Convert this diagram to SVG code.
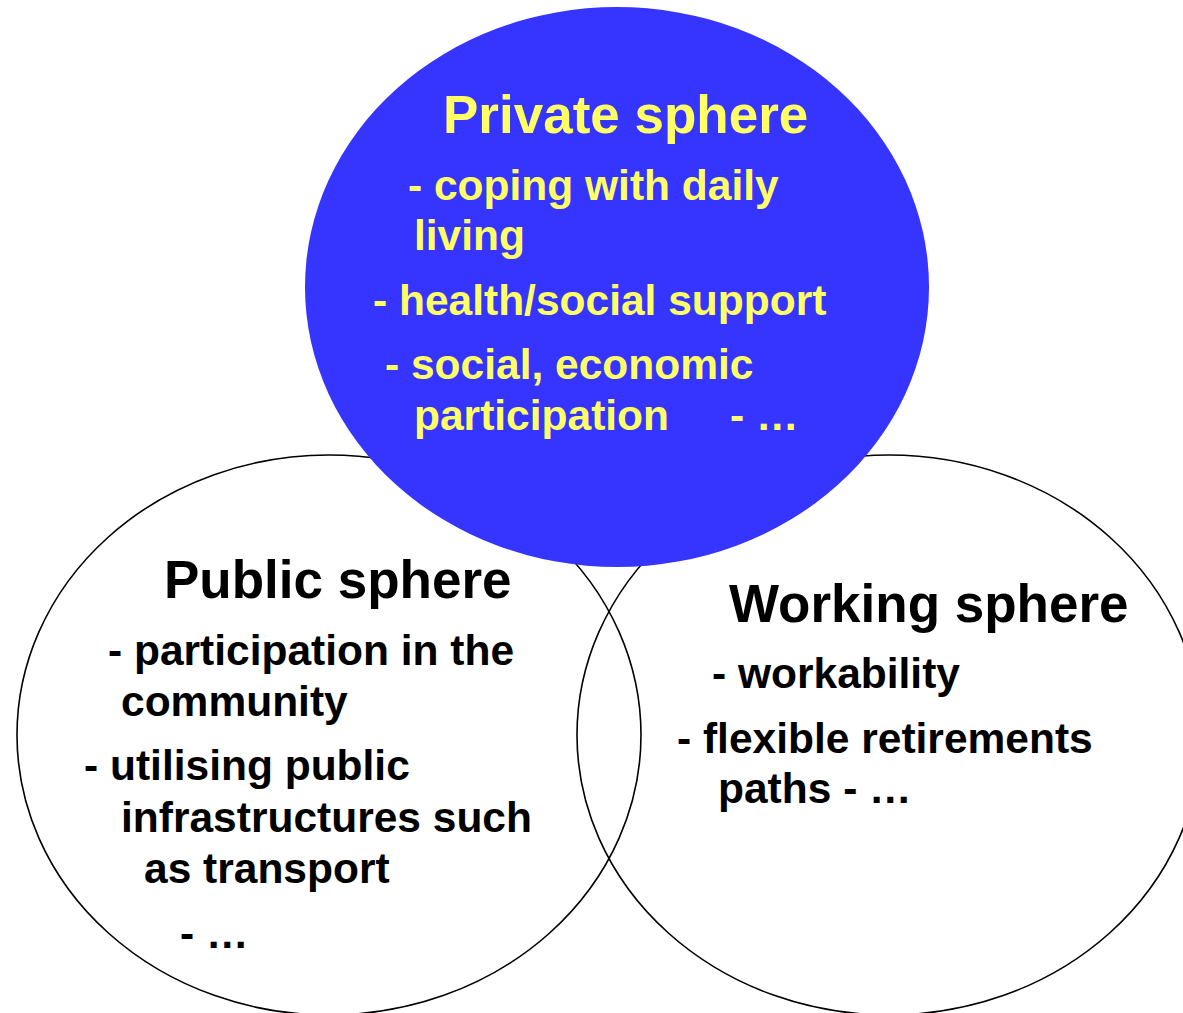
<svg xmlns="http://www.w3.org/2000/svg" width="1183" height="1013" viewBox="0 0 1183 1013">
<style>
.ring{fill:none;stroke:#000;stroke-width:1.6}
.blue{fill:#3535FF;stroke:none}
text{font-family:"Liberation Sans",Arial,sans-serif;font-weight:bold}
.t{font-size:53px}
.i{font-size:42.5px}
.y{fill:#FFFF66}
.k{fill:#000}
</style>
<rect width="1183" height="1013" fill="#fff"/>
<g id="public">
<ellipse class="ring" cx="329" cy="735" rx="312" ry="280"/>
<text class="t k" x="164" y="598">Public sphere</text>
<text class="i k" x="108" y="665">- participation in the</text>
<text class="i k" x="121" y="716">community</text>
<text class="i k" x="84" y="780">- utilising public</text>
<text class="i k" x="121" y="832">infrastructures such</text>
<text class="i k" x="144" y="883">as transport</text>
<text class="i k" x="180" y="948">- …</text>
</g>
<g id="working">
<ellipse class="ring" cx="889" cy="735" rx="312" ry="280"/>
<text class="t k" x="729" y="622">Working sphere</text>
<text class="i k" x="712" y="688">- workability</text>
<text class="i k" x="677" y="753">- flexible retirements</text>
<text class="i k" x="718" y="803">paths - …</text>
</g>
<g id="private">
<ellipse class="blue" cx="617" cy="287" rx="312" ry="280"/>
<text class="t y" x="443" y="133">Private sphere</text>
<text class="i y" x="408" y="200">- coping with daily</text>
<text class="i y" x="414" y="250">living</text>
<text class="i y" x="373" y="315">- health/social support</text>
<text class="i y" x="385" y="379">- social, economic</text>
<text class="i y" x="414" y="430">participation</text>
<text class="i y" x="730" y="430">- …</text>
</g>
<g id="connectors"/>
</svg>
